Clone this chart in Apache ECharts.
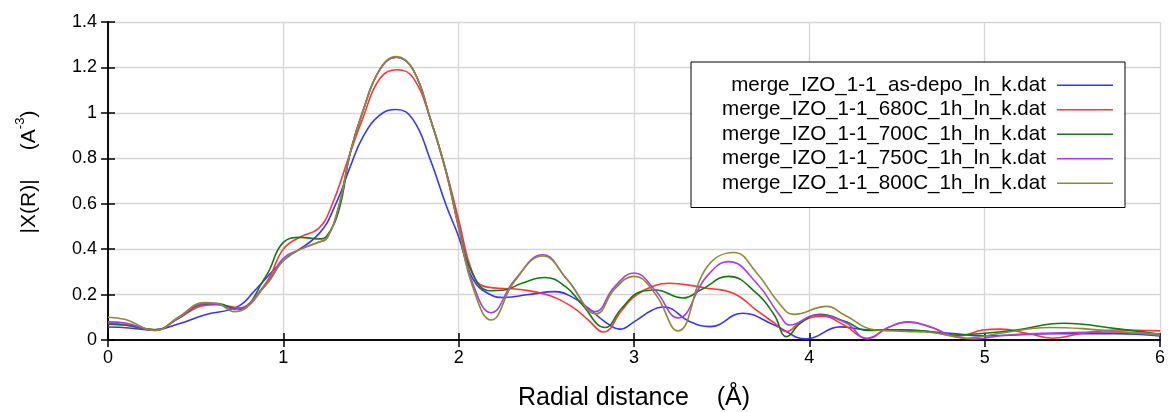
<!DOCTYPE html>
<html>
<head>
<meta charset="utf-8">
<script src="https://cdn.jsdelivr.net/npm/echarts@6/dist/echarts.min.js"></script>
<style>
html,body{margin:0;padding:0;background:#fff;}
#chart{width:1168px;height:412px;}
</style>
</head>
<body>
<div id="chart"></div>
<script>
// Each series: [radial distance (Å), |χ(R)|] (extrema and slope points)
const seriesNames = [
  'merge_IZO_1-1_as-depo_ln_k.dat',
  'merge_IZO_1-1_680C_1h_ln_k.dat',
  'merge_IZO_1-1_700C_1h_ln_k.dat',
  'merge_IZO_1-1_750C_1h_ln_k.dat',
  'merge_IZO_1-1_800C_1h_ln_k.dat'
];

const asDepo = [[0,0.057],[0.12,0.053],[0.25,0.044],[0.4,0.07],[0.55,0.11],[0.74,0.147],[0.84,0.22],[1.0,0.35],[1.2,0.465],[1.3,0.6],[1.38,0.76],[1.455,0.895],[1.55,0.99],[1.645,1.015],[1.74,0.97],[1.84,0.79],[1.93,0.59],[2.0,0.455],[2.08,0.27],[2.18,0.2],[2.26,0.187],[2.4,0.2],[2.55,0.213],[2.645,0.19],[2.74,0.14],[2.835,0.08],[2.92,0.048],[3.0,0.08],[3.1,0.13],[3.17,0.145],[3.32,0.08],[3.435,0.059],[3.62,0.118],[3.8,0.066],[3.985,0.005],[4.175,0.058],[4.33,0.045],[4.52,0.044],[4.8,0.03],[5.0,0.018],[5.4,0.028],[5.75,0.028],[6.0,0.018]];

const t680 = [[0,0.075],[0.1,0.068],[0.27,0.045],[0.4,0.095],[0.55,0.152],[0.62,0.155],[0.75,0.142],[0.9,0.25],[1.0,0.40],[1.1,0.455],[1.2,0.49],[1.27,0.58],[1.38,0.82],[1.455,0.98],[1.55,1.15],[1.65,1.19],[1.74,1.155],[1.84,0.97],[1.93,0.74],[2.0,0.53],[2.08,0.295],[2.15,0.235],[2.35,0.222],[2.5,0.2],[2.645,0.147],[2.74,0.088],[2.825,0.035],[2.93,0.13],[3.0,0.19],[3.12,0.24],[3.2,0.25],[3.415,0.228],[3.57,0.205],[3.7,0.13],[3.8,0.075],[3.87,0.037],[3.95,0.08],[4.07,0.105],[4.2,0.065],[4.33,0.008],[4.45,0.055],[4.56,0.078],[4.7,0.055],[4.8,0.022],[4.86,0.018],[4.99,0.044],[5.09,0.048],[5.24,0.03],[5.39,0.008],[5.56,0.03],[5.75,0.044],[6.0,0.04]];

const t700 = [[0,0.07],[0.1,0.065],[0.27,0.045],[0.4,0.095],[0.55,0.158],[0.62,0.16],[0.74,0.135],[0.9,0.28],[1.0,0.43],[1.1,0.452],[1.2,0.445],[1.25,0.46],[1.32,0.58],[1.38,0.82],[1.455,1.01],[1.55,1.19],[1.645,1.245],[1.74,1.19],[1.84,0.97],[1.93,0.735],[2.0,0.5],[2.08,0.29],[2.18,0.217],[2.26,0.22],[2.36,0.25],[2.49,0.275],[2.61,0.235],[2.7,0.16],[2.835,0.055],[2.93,0.14],[3.04,0.213],[3.12,0.22],[3.28,0.185],[3.38,0.22],[3.54,0.28],[3.7,0.205],[3.8,0.11],[3.87,0.015],[3.95,0.075],[4.06,0.113],[4.21,0.08],[4.33,0.042],[4.5,0.045],[4.65,0.04],[4.82,0.022],[5.0,0.03],[5.18,0.044],[5.45,0.074],[5.75,0.05],[6.0,0.025]];

const t750 = [[0,0.08],[0.1,0.075],[0.27,0.042],[0.4,0.095],[0.55,0.16],[0.62,0.158],[0.72,0.135],[0.9,0.245],[1.0,0.36],[1.1,0.40],[1.2,0.43],[1.25,0.45],[1.32,0.6],[1.38,0.82],[1.455,1.01],[1.55,1.19],[1.645,1.245],[1.74,1.19],[1.84,0.97],[1.93,0.735],[2.0,0.5],[2.08,0.25],[2.185,0.12],[2.32,0.265],[2.48,0.375],[2.62,0.265],[2.78,0.125],[2.89,0.235],[3.0,0.295],[3.12,0.22],[3.25,0.097],[3.415,0.28],[3.54,0.345],[3.7,0.25],[3.83,0.11],[3.89,0.066],[4.04,0.11],[4.21,0.075],[4.33,0.005],[4.45,0.055],[4.56,0.08],[4.7,0.055],[4.81,0.02],[4.95,0.005],[5.1,0.02],[5.37,0.03],[5.75,0.035],[6.0,0.02]];

const t800 = [[0,0.1],[0.1,0.09],[0.27,0.042],[0.4,0.1],[0.55,0.165],[0.62,0.162],[0.72,0.125],[0.9,0.24],[1.0,0.35],[1.1,0.40],[1.2,0.43],[1.25,0.45],[1.32,0.6],[1.38,0.82],[1.455,1.01],[1.55,1.19],[1.643,1.248],[1.74,1.19],[1.84,0.97],[1.93,0.735],[2.0,0.49],[2.08,0.235],[2.185,0.088],[2.32,0.26],[2.48,0.37],[2.62,0.265],[2.785,0.115],[2.89,0.225],[3.0,0.28],[3.12,0.205],[3.25,0.04],[3.415,0.32],[3.57,0.385],[3.7,0.295],[3.83,0.16],[3.91,0.113],[4.1,0.148],[4.2,0.11],[4.38,0.044],[4.55,0.038],[4.7,0.033],[4.9,0.008],[5.09,0.03],[5.37,0.055],[5.56,0.05],[5.75,0.037],[6.0,0.025]];

const seriesValues = [asDepo, t680, t700, t750, t800];
const seriesColors = ['#3535ff', '#ff3535', '#147814', '#a83cf2', '#8c8c2e'];

const xTicks = {min: 0, max: 6, step: 1};
const yTicks = {min: 0, max: 1.4, step: 0.2};

const FONT = 'Liberation Sans, Arial, sans-serif';

const chart = echarts.init(document.getElementById('chart'), null, {renderer: 'canvas'});

const axisCommon = {
  axisLine: {show: true, lineStyle: {color: '#000', width: 1.5}},
  axisTick: {show: true, inside: true, length: 7, lineStyle: {color: '#000', width: 1.5}}
};

const option = {
  backgroundColor: '#fff',
  animation: false,
  grid: {left: 108, right: 8, top: 22, bottom: 72, containLabel: false, outerBoundsMode: 'none'},
  legend: {
    orient: 'vertical',
    right: 43,
    top: 62,
    align: 'right',
    padding: [11, 12, 12, 31],
    itemGap: 0,
    itemWidth: 56,
    itemHeight: 1.5,
    icon: 'rect',
    borderColor: '#000',
    borderWidth: 1,
    borderRadius: 0,
    backgroundColor: '#fff',
    textStyle: {fontFamily: FONT, fontSize: 20.6, color: '#000', lineHeight: 24.5, padding: [0, 6, 0, 0]},
    data: seriesNames
  },
  xAxis: [
    Object.assign({}, axisCommon, {
      type: 'value', min: xTicks.min, max: xTicks.max, interval: xTicks.step, position: 'bottom',
      name: 'Radial distance    (Å)', nameLocation: 'middle', nameGap: 46,
      nameTextStyle: {fontFamily: FONT, fontSize: 25, color: '#000'},
      axisLabel: {fontFamily: FONT, fontSize: 18, color: '#000', margin: 9},
      splitLine: {show: true, lineStyle: {color: '#d6d6d6', width: 1.3}}
    }),
    Object.assign({}, axisCommon, {
      type: 'value', min: xTicks.min, max: xTicks.max, interval: xTicks.step, position: 'top',
      axisLabel: {show: false}, splitLine: {show: false}
    })
  ],
  yAxis: [
    Object.assign({}, axisCommon, {
      type: 'value', min: yTicks.min, max: yTicks.max, interval: yTicks.step, position: 'left',
      name: '{a||X(R)|}     {a|(A}{sup|-3}{a|)}', nameLocation: 'middle', nameGap: 68, nameRotate: 90,
      nameTextStyle: {
        fontFamily: FONT, fontSize: 21, color: '#000', padding: [0, 0, 0, 18],
        rich: {
          a: {fontFamily: FONT, fontSize: 21, color: '#000', lineHeight: 26, verticalAlign: 'bottom'},
          sup: {fontFamily: FONT, fontSize: 13, color: '#000', lineHeight: 26, verticalAlign: 'top'}
        }
      },
      axisLabel: {fontFamily: FONT, fontSize: 18, color: '#000', margin: 11},
      splitLine: {show: true, lineStyle: {color: '#d6d6d6', width: 1.3}}
    }),
    Object.assign({}, axisCommon, {
      type: 'value', min: yTicks.min, max: yTicks.max, interval: yTicks.step, position: 'right',
      axisLabel: {show: false}, splitLine: {show: false}
    })
  ],
  series: seriesNames.map((name, i) => ({
    name: name,
    type: 'line',
    xAxisIndex: 0,
    yAxisIndex: 0,
    data: seriesValues[i],
    smooth: 0.45,
    showSymbol: false,
    symbol: 'none',
    color: seriesColors[i],
    lineStyle: {color: seriesColors[i], width: 1.6},
    itemStyle: {color: seriesColors[i]},
    z: 2 + i
  }))
};

chart.setOption(option);
</script>
</body>
</html>
